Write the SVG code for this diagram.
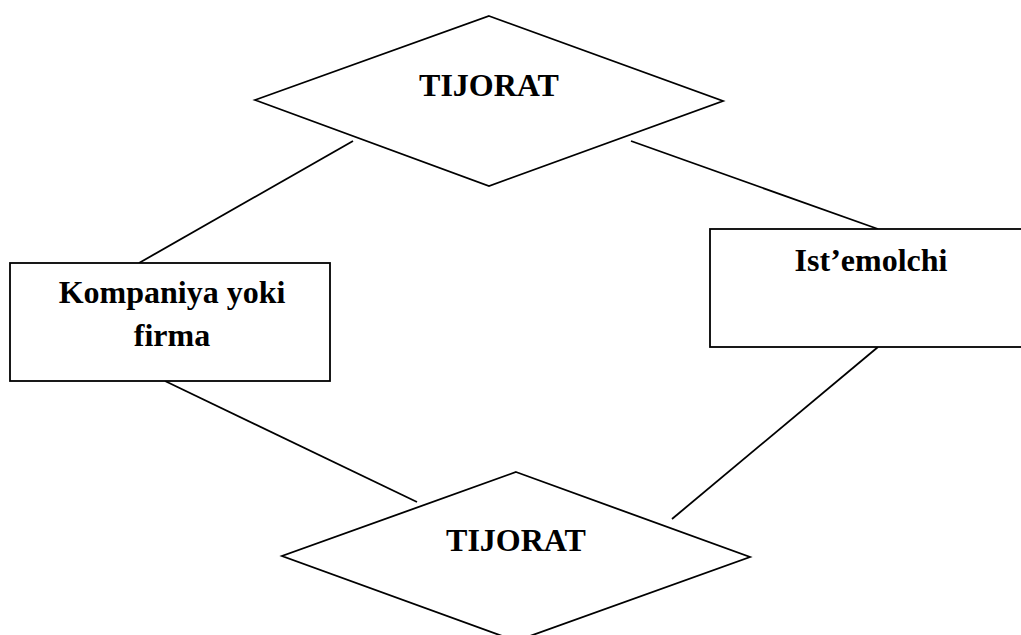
<svg xmlns="http://www.w3.org/2000/svg" width="1021" height="635" viewBox="0 0 1021 635">
<style>
.shape{fill:#fff;stroke:#000;stroke-width:1.8}
.conn line{stroke:#000;stroke-width:1.8}
text{font-family:"Liberation Serif","Times New Roman",serif;font-weight:bold;font-size:32px;fill:#000;text-anchor:middle}
</style>
<rect width="1021" height="635" fill="#fff"/>
<g id="connectors" class="conn">
<line x1="353" y1="141" x2="139" y2="263"/>
<line x1="631" y1="141" x2="878" y2="229"/>
<line x1="165" y1="381" x2="417" y2="502"/>
<line x1="878" y1="347" x2="672" y2="519"/>
</g>
<g id="tijorat-top">
<polygon class="shape" points="489,16 723,101 489,186 255,100"/>
<text x="489" y="96">TIJORAT</text>
</g>
<g id="kompaniya">
<rect class="shape" x="10" y="263" width="320" height="118"/>
<text x="172" y="303">Kompaniya yoki</text>
<text x="172" y="346">firma</text>
</g>
<g id="istemolchi">
<rect class="shape" x="710" y="229" width="312" height="118"/>
<text x="871" y="271">Ist’emolchi</text>
</g>
<g id="tijorat-bottom">
<polygon class="shape" points="516,472 750,557 516,641 282,556"/>
<text x="516" y="551">TIJORAT</text>
</g>
</svg>
